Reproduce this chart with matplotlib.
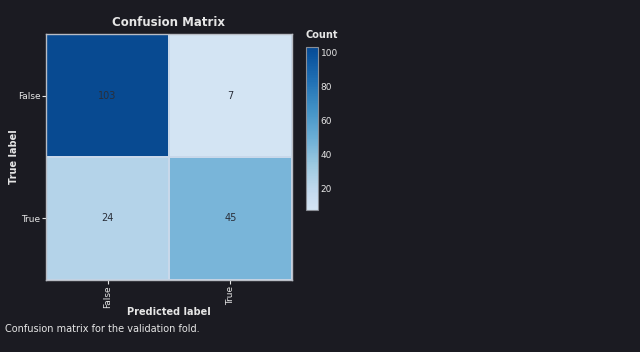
import matplotlib
matplotlib.use("Agg")
import matplotlib.pyplot as plt
import numpy as np
from matplotlib.colors import LinearSegmentedColormap

true_labels = ["False", "True"]
pred_labels = ["False", "True"]
counts = np.array([[103, 7],
                   [24, 45]])

bg = "#1b1b22"
fg = "#e6e6e6"

base = plt.get_cmap("Blues")
cmap = LinearSegmentedColormap.from_list("blues_cut", base(np.linspace(0.18, 0.9, 256)))

fig = plt.figure(figsize=(6.4, 3.52), dpi=100, facecolor=bg)
ax = fig.add_axes([0.072, 0.205, 0.384, 0.698])
ax.set_facecolor(bg)

im = ax.pcolormesh(counts, cmap=cmap, vmin=counts.min(), vmax=counts.max(),
                   edgecolors="#c8d8ea", linewidth=0.3)
ax.set_xlim(0, 2)
ax.set_ylim(2, 0)
for i in range(2):
    for j in range(2):
        ax.text(j + 0.5, i + 0.5, str(counts[i, j]), ha="center", va="center",
                fontsize=7, color="#2a2f3a")

ax.set_xticks([0.5, 1.5])
ax.set_xticklabels(pred_labels, rotation=90)
ax.set_yticks([0.5, 1.5])
ax.set_yticklabels(true_labels)
ax.tick_params(colors=fg, labelsize=6.5, length=3, width=0.8, pad=1)
for s in ax.spines.values():
    s.set_color("#b8bcc4")
    s.set_linewidth(1)

ax.set_title("Confusion Matrix", color=fg, fontsize=8.5, fontweight="bold", pad=6)
ax.set_xlabel("Predicted label", color=fg, fontsize=7, fontweight="bold")
ax.set_ylabel("True label", color=fg, fontsize=7, fontweight="bold")
ax.xaxis.set_label_coords(0.5, -0.112)
ax.yaxis.set_label_coords(-0.112, 0.5)

cax = fig.add_axes([0.478, 0.403, 0.019, 0.463])
cb = fig.colorbar(im, cax=cax, ticks=[20, 40, 60, 80, 100])
cb.outline.set_edgecolor("#8a8e96")
cb.outline.set_linewidth(0.8)
cax.tick_params(colors=fg, labelsize=6.5, length=0, pad=2)
fig.text(0.478, 0.885, "Count", color=fg, fontsize=7, fontweight="bold", ha="left", va="bottom")

fig.text(0.008, 0.065, "Confusion matrix for the validation fold.", color=fg, fontsize=7,
         ha="left", va="center")

fig.savefig("out.png", dpi=100, facecolor=bg)
